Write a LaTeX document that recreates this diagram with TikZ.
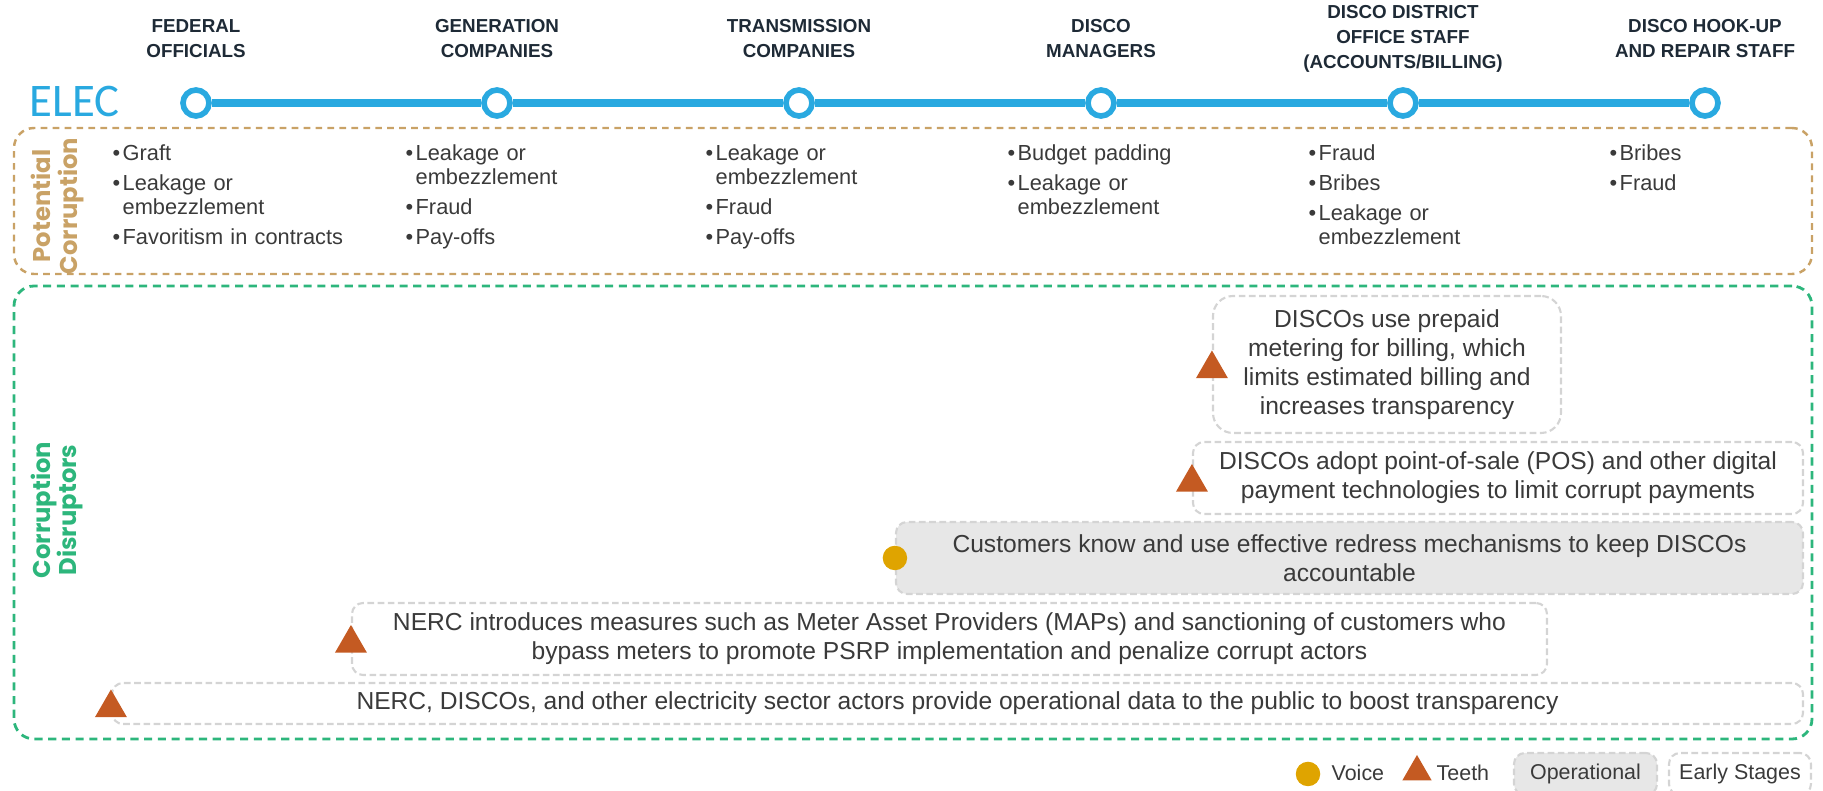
\documentclass[tikz,border=0pt]{standalone}
\usepackage{fontspec}
\setmainfont{Liberation Sans}
\newfontfamily\elecfont{Carlito}
\newfontfamily\sidefont{Poppins}
\usepackage{tikz}
\usetikzlibrary{shapes.geometric,positioning}

\definecolor{elecblue}{HTML}{29A9E0}
\definecolor{tanline}{HTML}{C9A266}
\definecolor{greenline}{HTML}{2DB67C}
\definecolor{teethred}{HTML}{C45A22}
\definecolor{voicegold}{HTML}{DFA400}
\definecolor{opfill}{HTML}{E7E7E7}
\definecolor{dashgray}{HTML}{D4D4D4}
\definecolor{headtext}{HTML}{1E2A36}
\definecolor{bodytext}{HTML}{3A3A3A}

% one bullet of a corruption list
\newcommand{\bitem}[1]{\par\noindent\hangindent=0.1cm\hangafter=1\makebox[0.1cm][l]{\textbullet}#1\par\vspace{0.06cm}}

\begin{document}
\begin{tikzpicture}[
    head/.style={align=center, inner sep=0, text=headtext, font=\fontsize{5.35}{7.1}\selectfont\bfseries},
    stopmark/.style={circle, draw=elecblue, line width=1.6pt, fill=white, minimum size=0.26cm, inner sep=0},
    corrlist/.style={anchor=north west, inner sep=0, text width=2.7cm, align=left, text=bodytext, font=\fontsize{6.2}{6.8}\selectfont},
    groupbox/.style={rounded corners=0.2cm, minimum width=17.98cm},
    sidelabel/.style={rotate=90, align=center, inner sep=0, font=\sidefont\bfseries\fontsize{6.9}{7.6}\selectfont},
    earlybox/.style={draw=dashgray, dash pattern=on 1.9pt off 1pt, line width=0.6pt, fill=white, rounded corners=0.11cm, align=center, inner sep=0, text=bodytext, font=\fontsize{7}{8.3}\selectfont},
    opbox/.style={earlybox, fill=opfill},
    teeth/.style={regular polygon, regular polygon sides=3, fill=teethred, inner sep=0, minimum size=0.37cm, yshift=-0.045cm},
    voice/.style={circle, fill=voicegold, inner sep=0, minimum size=0.245cm},
    legendtext/.style={anchor=west, inner sep=0, text=bodytext, font=\fontsize{6.1}{7}\selectfont}]
    \clip (0,0) rectangle (18.23,7.91);
    % Timeline
    \node[anchor=west, inner sep=0, text=elecblue, font=\elecfont\fontsize{13.3}{14}\selectfont] (elec) at (0.29, 6.89) {ELEC};
    \node[stopmark] (s1) at (1.96, 6.88) {};
    \node[stopmark] (s2) at (4.97, 6.88) {};
    \node[stopmark] (s3) at (7.99, 6.88) {};
    \node[stopmark] (s4) at (11.01, 6.88) {};
    \node[stopmark] (s5) at (14.03, 6.88) {};
    \node[stopmark] (s6) at (17.05, 6.88) {};
    \draw[elecblue, line width=2.3pt] (s1) -- (s2) -- (s3) -- (s4) -- (s5) -- (s6);
    % Actors
    \node[head] (federal) at (1.96, 7.52) {FEDERAL\\OFFICIALS};
    \node[head] (gencos) at (4.97, 7.52) {GENERATION\\COMPANIES};
    \node[head] (transcos) at (7.99, 7.52) {TRANSMISSION\\COMPANIES};
    \node[head] (managers) at (11.01, 7.52) {DISCO\\MANAGERS};
    \node[head] (district) at (14.03, 7.52) {DISCO DISTRICT\\OFFICE STAFF\\(ACCOUNTS/BILLING)};
    \node[head] (hookup) at (17.05, 7.52) {DISCO HOOK-UP\\AND REPAIR STAFF};
    % Potential corruption
    \node[groupbox, draw=tanline, line width=0.7pt, dash pattern=on 1.9pt off 1.5pt, minimum height=1.46cm] (potbox) at (9.13, 5.90) {};
    \node[sidelabel, text=tanline] (potlabel) at (0.575, 5.85) {Potential\\Corruption};
    \node[corrlist] (federallist) at (1.12, 6.55) {\bitem{Graft}\bitem{Leakage or\newline embezzlement}\bitem{Favoritism in contracts}};
    \node[corrlist] (gencolist) at (4.05, 6.55) {\bitem{Leakage or\newline embezzlement}\bitem{Fraud}\bitem{Pay-offs}};
    \node[corrlist] (transcolist) at (7.05, 6.55) {\bitem{Leakage or\newline embezzlement}\bitem{Fraud}\bitem{Pay-offs}};
    \node[corrlist] (managerlist) at (10.07, 6.55) {\bitem{Budget padding}\bitem{Leakage or\newline embezzlement}};
    \node[corrlist] (districtlist) at (13.08, 6.55) {\bitem{Fraud}\bitem{Bribes}\bitem{Leakage or\newline embezzlement}};
    \node[corrlist] (hookuplist) at (16.09, 6.55) {\bitem{Bribes}\bitem{Fraud}};
    % Corruption disruptors
    \node[groupbox, draw=greenline, line width=0.8pt, dash pattern=on 2.3pt off 1.6pt, minimum height=4.53cm] (disbox) at (9.13, 2.785) {};
    \node[sidelabel, text=greenline] (dislabel) at (0.57, 2.81) {Corruption\\Disruptors};
    \node[earlybox, minimum width=3.48cm, minimum height=1.37cm, rounded corners=0.2cm] (prepaid) at (13.87, 4.265) {DISCOs use prepaid\\metering for billing, which\\limits estimated billing and\\increases transparency};
    \node[earlybox, minimum width=6.1cm, minimum height=0.72cm] (pos) at (14.98, 3.13) {DISCOs adopt point-of-sale (POS) and other digital\\payment technologies to limit corrupt payments};
    \node[opbox, minimum width=9.07cm, minimum height=0.72cm] (redress) at (13.495, 2.33) {Customers know and use effective redress mechanisms to keep DISCOs\\accountable};
    \node[earlybox, minimum width=11.95cm, minimum height=0.72cm] (nerc) at (9.495, 1.52) {NERC introduces measures such as Meter Asset Providers (MAPs) and sanctioning of customers who\\bypass meters to promote PSRP implementation and penalize corrupt actors};
    \node[earlybox, minimum width=16.91cm, minimum height=0.41cm] (opdata) at (9.575, 0.875) {NERC, DISCOs, and other electricity sector actors provide operational data to the public to boost transparency};
    \node[teeth] (prepaidmark) at (prepaid.west) {};
    \node[teeth] (posmark) at (pos.west) {};
    \node[voice] (redressmark) at (redress.west) {};
    \node[teeth] (nercmark) at (nerc.west) {};
    \node[teeth] (opdatamark) at (opdata.west) {};
    % Legend
    \node[voice] (voicekey) at (13.08, 0.17) {};
    \node[legendtext] (voicetext) at (13.31, 0.18) {Voice};
    \node[teeth, minimum size=0.34cm] (teethkey) at (14.17, 0.235) {};
    \node[legendtext] (teethtext) at (14.36, 0.18) {Teeth};
    \node[opbox, minimum width=1.43cm, minimum height=0.42cm, font=\fontsize{6.1}{7}\selectfont] (opkey) at (15.855, 0.17) {Operational};
    \node[earlybox, minimum width=1.42cm, minimum height=0.42cm, font=\fontsize{6.1}{7}\selectfont] (earlykey) at (17.40, 0.17) {Early Stages};
\end{tikzpicture}
\end{document}
